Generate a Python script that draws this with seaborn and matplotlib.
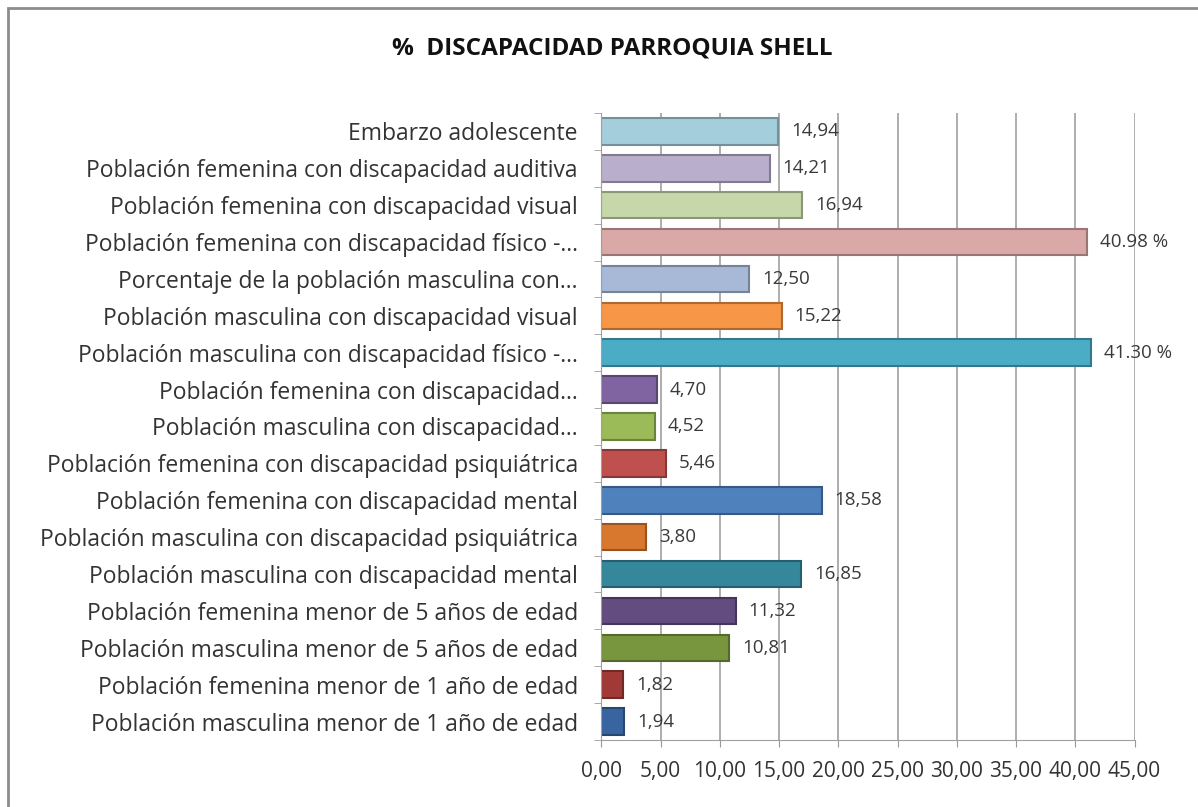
import matplotlib
matplotlib.use('Agg')
import matplotlib.pyplot as plt
import matplotlib.colors as mcolors
from matplotlib.patches import Rectangle
import seaborn as sns

# categorias de arriba hacia abajo
categorias = [
    'Embarzo adolescente',
    'Población femenina con discapacidad auditiva',
    'Población femenina con discapacidad visual',
    'Población femenina con discapacidad físico -...',
    'Porcentaje de la población masculina con...',
    'Población masculina con discapacidad visual',
    'Población masculina con discapacidad físico -...',
    'Población femenina con discapacidad...',
    'Población masculina con discapacidad...',
    'Población femenina con discapacidad psiquiátrica',
    'Población femenina con discapacidad mental',
    'Población masculina con discapacidad psiquiátrica',
    'Población masculina con discapacidad mental',
    'Población femenina menor de 5 años de edad',
    'Población masculina menor de 5 años de edad',
    'Población femenina menor de 1 año de edad',
    'Población masculina menor de 1 año de edad',
]
valores = [14.94, 14.21, 16.94, 40.98, 12.50, 15.22, 41.30, 4.70, 4.52,
           5.46, 18.58, 3.80, 16.85, 11.32, 10.81, 1.82, 1.94]
etiquetas = ['14,94', '14,21', '16,94', '40.98 %', '12,50', '15,22', '41.30 %',
             '4,70', '4,52', '5,46', '18,58', '3,80', '16,85', '11,32', '10,81',
             '1,82', '1,94']
colores = ['#A5CEDD', '#B9AECB', '#C6D8AA', '#D9A8A7', '#A8B9D8', '#F79646',
           '#4BACC6', '#8064A2', '#9BBB59', '#C0504D', '#4F81BD', '#D8772E',
           '#35879C', '#634C80', '#78963D', '#A13A37', '#3864A0']
ticks_x = [0, 5, 10, 15, 20, 25, 30, 35, 40, 45]
ticks_txt = ['0,00', '5,00', '10,00', '15,00', '20,00', '25,00', '30,00',
             '35,00', '40,00', '45,00']

sns.set_style('white')
plt.rcParams['font.family'] = ['Open Sans', 'DejaVu Sans']

fig = plt.figure(figsize=(11.98, 8.07), dpi=100)
ax = fig.add_axes([0.502, 0.083, 0.445, 0.777])

sns.barplot(x=valores, y=categorias, hue=categorias, palette=colores,
            legend=False, orient='h', width=0.72, ax=ax, saturation=1)

# borde oscuro para dar algo de volumen
for patch, c in zip(ax.patches, colores):
    r, g, b = mcolors.to_rgb(c)
    patch.set_edgecolor((r * 0.7, g * 0.7, b * 0.7))
    patch.set_linewidth(1.5)

for i, (v, t) in enumerate(zip(valores, etiquetas)):
    ax.text(v + 1.1, i, t, va='center', ha='left', fontsize=13.5, color='#3A3A3A')

ax.set_xlim(0, 45)
ax.set_ylim(len(categorias) - 0.5, -0.5)
ax.set_xticks(ticks_x)
ax.set_xticklabels(ticks_txt, fontsize=15, color='#333333')
# marcas del eje y entre categorias, como en excel
ax.set_yticks([i + 0.5 for i in range(-1, len(categorias))], minor=True)
ax.tick_params(axis='y', which='major', labelsize=16.5, labelcolor='#333333',
               length=0, pad=17)
ax.tick_params(axis='y', which='minor', length=5, color='#999999', left=True)
ax.tick_params(axis='x', length=5, color='#999999', bottom=True, pad=10)
ax.xaxis.grid(True, color='#A0A0A0', linewidth=1.2)
ax.set_axisbelow(True)
for s in ['top', 'right']:
    ax.spines[s].set_visible(False)
for s in ['left', 'bottom']:
    ax.spines[s].set_color('#A0A0A0')
ax.set_xlabel('')
ax.set_ylabel('')

fig.text(0.511, 0.94, '%  DISCAPACIDAD PARROQUIA SHELL', ha='center',
         va='center', fontsize=17.5, fontweight='bold', color='#111111')

fig.patches.append(Rectangle((0.0067, -0.2), 1.5, 1.19, transform=fig.transFigure,
                             fill=False, edgecolor='#8C8C8C', linewidth=2))

fig.savefig('out.png', dpi=100)
